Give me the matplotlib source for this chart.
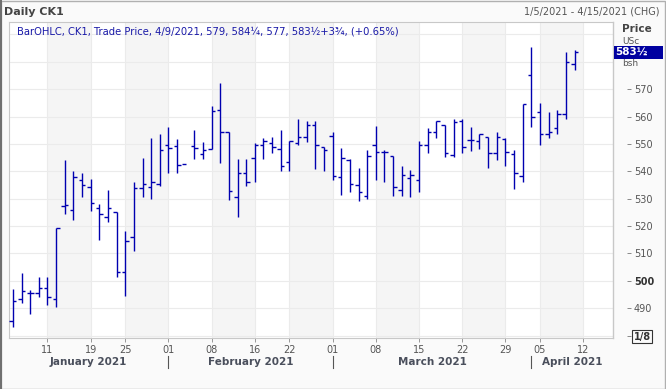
import matplotlib
matplotlib.use('Agg')
import numpy as np
import pandas as pd
import matplotlib.pyplot as plt
from matplotlib import transforms
from matplotlib.patches import Rectangle

# trading calendar (CBOT closed on these days)
holidays = ['2021-01-18', '2021-02-15', '2021-04-02']
days = pd.bdate_range('2021-01-05', '2021-04-15', freq='C', holidays=holidays)

# daily OHLC, US cents / bushel (Jan 5 .. Apr 9)
opens = [485.25, 493.25, 495.5, 495.5, 497.5, 493.5, 527.25, 526, 537, 534.25,
         526.75, 523.25, 525, 503.25, 516, 533.75, 534.25, 535.5, 549.5, 549.25,
         542.5, 549.25, 546.25, 548, 562.5, 554.25, 530.5, 539.5, 544.75, 549.5,
         550.25, 548, 543.5, 550.5, 552.5, 556.75, 548.75, 553, 538, 544,
         535, 531, 549.5, 547, 545.5, 533, 537.5, 537, 549.5, 554.25,
         557, 546, 558.5, 551.5, 551, 552.5, 546.5, 551.75, 546.25, 538.25,
         575, 561.75, 553.75, 555.75, 561, 579]
highs = [497, 503, 496.75, 501.5, 501.5, 519.25, 544, 540, 539.5, 537.25,
         528, 533.25, 525, 518.25, 536, 545, 552, 553.75, 556, 551.75,
         np.nan, 555, 550.75, 563.75, 572.25, 554.25, 544.5, 544.5, 550.25, 552,
         552.5, 555, 551, 559.25, 558.25, 558.25, 549, 554.25, 548.5, 544.5,
         541.25, 547.75, 556.5, 547.75, 545.75, 542, 540.5, 551, 555.75, 558.5,
         557, 559, 559, 556, 553.75, 552.5, 554.25, 552, 547.75, 564.5,
         585.5, 565, 561.75, 562.5, 583.5, 584.25]
lows = [483.25, 492, 488, 494, 491.25, 490.5, 524.5, 522.25, 530.75, 525.5,
        515, 521.5, 501.25, 494.5, 510.75, 530.75, 529.75, 534.5, 539.5, 539.5,
        np.nan, 544.5, 544.5, 548, 543, 529.5, 523.5, 534.75, 536.25, 544.5,
        546.5, 540.25, 540.25, 549.75, 550.75, 540.75, 540, 537, 531.5, 532.5,
        529, 529.75, 537, 536.25, 531, 531, 530.75, 532.5, 546.75, 552,
        545.25, 545.25, 546.75, 547.5, 548.25, 541.25, 544, 542, 533.5, 536.25,
        556.25, 549.5, 552.25, 553.75, 559.25, 577]
closes = [492.5, 496.25, 495.5, 497.5, 494, 519.25, 527.75, 538, 535, 528.25,
          524.5, 526.5, 503.25, 514.5, 533.75, 535.25, 536.25, 547.75, 548.5, 542.25,
          np.nan, 548.5, 547.75, 562, 554.25, 532.75, 539.5, 536.25, 549.75, 551,
          549, 542, 551, 552.5, 557, 549.75, 547.75, 538.25, 545, 535.5,
          532.5, 545.5, 547, 547, 534.25, 538.5, 538.75, 549.5, 554.25, 558.25,
          546.5, 558, 549, 551.5, 553.5, 546.5, 552.5, 547, 539.25, 564.5,
          559.75, 553.5, 554.25, 561, 579.75, 583.5]

tick_days = ['2021-01-11', '2021-01-19', '2021-01-25', '2021-02-01', '2021-02-08',
             '2021-02-16', '2021-02-22', '2021-03-01', '2021-03-08', '2021-03-15',
             '2021-03-22', '2021-03-29', '2021-04-05', '2021-04-12']
months = ['January 2021', 'February 2021', 'March 2021', 'April 2021']
month_starts = ['2021-02-01', '2021-03-01', '2021-04-01']
price_ticks = [480, 490, 500, 510, 520, 530, 540, 550, 560, 570]
price_labels = ['1/8', '490', '500', '510', '520', '530', '540', '550', '560', '570']
last_price = 583.5

BLUE = '#0000b0'
W, H = 666, 389

fig = plt.figure(figsize=(W / 100, H / 100), dpi=100, facecolor='#fafafa')
ax = fig.add_axes([9 / W, 1 - 338.3 / H, (613 - 9) / W, (338.3 - 21.7) / H])
ax.set_facecolor('white')

xlo, xhi = -0.45, len(days) - 0.55
ax.set_xlim(xlo, xhi)
ax.set_ylim(479.05, 594.6)

tick_pos = [days.get_loc(pd.Timestamp(d)) for d in tick_days]
# alternating weekly bands + grid
for a, b in zip(tick_pos[0::2], tick_pos[1::2]):
    ax.axvspan(a, b, color='#f5f5f5', lw=0, zorder=0)
for p in tick_pos:
    ax.axvline(p, color='#ebebeb', lw=0.8, zorder=0.5)
for p in range(480, 591, 10):
    ax.axhline(p, color='#ebebeb', lw=0.8, zorder=0.5)

x = np.arange(len(opens))
ax.vlines(x, lows, highs, color=BLUE, lw=1.0, zorder=3)
ax.hlines(opens, x - 0.4, x, color=BLUE, lw=1.0, zorder=3)
ax.hlines(closes, x, x + 0.4, color=BLUE, lw=1.0, zorder=3)

# frame
for s in ['left', 'top', 'bottom']:
    ax.spines[s].set_color('#c8c8c8')
ax.spines['right'].set_position(('outward', 10))
ax.spines['right'].set_visible(False)
ax.plot([1, 1], [0, 1], transform=ax.transAxes, color='#c8c8c8', lw=1, clip_on=False)

# x axis
ax.set_xticks(tick_pos, [days[p].strftime('%d') for p in tick_pos])
ax.tick_params(axis='x', length=3, width=0.6, color='#888', pad=1.5,
               labelsize=7, labelcolor='#555')

# y axis on the right
ax.yaxis.tick_right()
ax.set_yticks(price_ticks, price_labels)
ax.tick_params(axis='y', length=3, width=0.6, color='#777', pad=2,
               labelsize=7, labelcolor='#555')
ylabs = ax.get_yticklabels()
ylabs[0].set_fontweight('bold')
ylabs[0].set_color('#333')
ylabs[0].set_bbox(dict(boxstyle='square,pad=0.15', fc='none', ec='#333', lw=0.8))
ylabs[2].set_fontweight('bold')
ylabs[2].set_color('#333')

# month labels and separators
trans = transforms.blended_transform_factory(ax.transData, fig.transFigure)
starts = [days.get_loc(pd.Timestamp(d)) for d in month_starts]
edges = [xlo] + starts + [xhi]
for name, a, b in zip(months, edges[:-1], edges[1:]):
    ax.text((a + b) / 2, 1 - 362 / H, name, transform=trans, ha='center', va='center',
            fontsize=7.5, fontweight='bold', color='#4a4f5c')
for s in starts:
    ax.plot([s, s], [1 - 356 / H, 1 - 368 / H], transform=trans, color='#555',
            lw=0.8, clip_on=False)

# headers
fig.text(4 / W, 1 - 12 / H, 'Daily CK1', fontsize=8, fontweight='bold', color='#444',
         va='center')
fig.text(660 / W, 1 - 12 / H, '1/5/2021 - 4/15/2021 (CHG)', fontsize=7, color='#555',
         va='center', ha='right')
fig.text(17 / W, 1 - 31 / H,
         'BarOHLC, CK1, Trade Price, 4/9/2021, 579, 584¼, 577, 583½+3¾, (+0.65%)',
         fontsize=7.2, color='#1a1aa8', va='center')
fig.text(622 / W, 1 - 29 / H, 'Price', fontsize=7.5, fontweight='bold', color='#444',
         va='center')
fig.text(622 / W, 1 - 41 / H, 'USc', fontsize=6.5, color='#555', va='center')
fig.text(622 / W, 1 - 64 / H, 'bsh', fontsize=6.5, color='#555', va='center')

# last price marker
ptrans = transforms.blended_transform_factory(fig.transFigure, ax.transData)
fig.patches.append(Rectangle((614 / W, last_price - 2.4), 49 / W, 4.8, transform=ptrans,
                             fc='#0000a0', ec='none', zorder=5))
fig.text(615 / W, last_price, '583½', transform=ptrans, fontsize=7.5, fontweight='bold',
         color='white', va='center', zorder=6)

# outer border
fig.patches.append(Rectangle((0.5 / W, 0.5 / H), (W - 1.5) / W, (H - 1.5) / H,
                             transform=fig.transFigure, fc='none', ec='#b0b0b0', lw=1))
fig.patches.append(Rectangle((0, 0), 2 / W, 1, transform=fig.transFigure,
                             fc='#707070', ec='none'))

fig.savefig('out.png', dpi=100, facecolor=fig.get_facecolor())
